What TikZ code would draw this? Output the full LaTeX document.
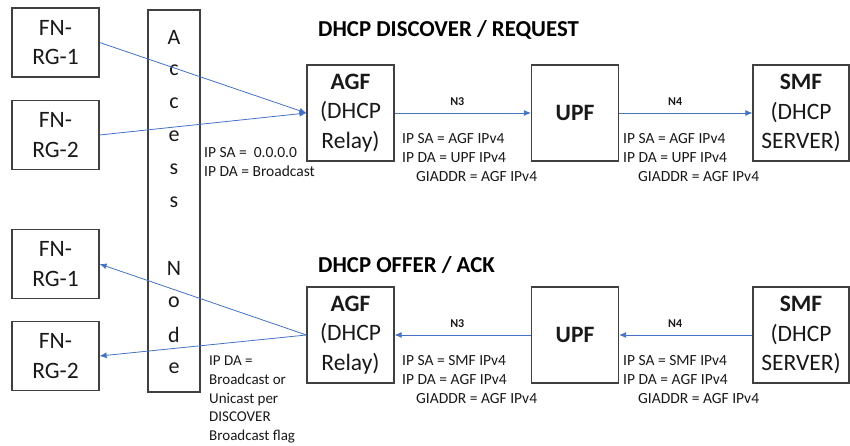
\documentclass[tikz,border=0pt]{standalone}
\usepackage{fontspec}
\setmainfont{Carlito}
\usetikzlibrary{arrows.meta}
\definecolor{arrowblue}{HTML}{4472C4}
\definecolor{boxgray}{HTML}{404040}

\begin{document}
\begin{tikzpicture}[
x=1pt,y=-1pt,
mybox/.style={
  draw=boxgray,
  line width=1.2pt,
  inner sep=0pt,
  align=center,
  text=black!90,
  font=\fontsize{23.5}{29.5}\selectfont
  },
fnbox/.style={mybox,minimum width=87pt,minimum height=69pt},
nfbox/.style={mybox,minimum width=87pt,minimum height=96pt},
letter/.style={inner sep=0pt,text=black!90,font=\fontsize{22}{26}\selectfont},
info/.style={anchor=north west,inner sep=0pt,align=left,text=black!90,font=\fontsize{15.5}{19}\selectfont},
title/.style={anchor=west,inner sep=0pt,font=\fontsize{22.8}{26}\selectfont\bfseries},
iface/.style={above=6.5pt,inner sep=1pt,text=black!90,font=\fontsize{12}{14}\selectfont\bfseries},
flow/.style={arrowblue,line width=0.8pt,-{Latex[length=7pt,width=6pt]}}
]
\useasboundingbox (0,0) rectangle (850,446);
% FN-RG boxes
\foreach \Value/\Y in {1/42.5,2/135}
  \node[fnbox] (rgu\Value) at (55.5,\Y) {FN-\\RG-\Value};
\foreach \Value/\Y in {1/264,2/356}
  \node[fnbox] (rgd\Value) at (55.5,\Y) {FN-\\RG-\Value};
% access node column
\node[mybox,minimum width=52pt,minimum height=382pt] (an) at (174,201) {};
\foreach \Letter/\Pos in {A/0,c/1,c/2,e/3,s/4,s/5,N/7,o/8,d/9,e/10}
  \node[letter] (an\Pos) at (174,{37+33.1*\Pos}) {\Letter};
% discover / request
\node[title] (tu) at (318,30) {DHCP DISCOVER / REQUEST};
\node[nfbox] (agfu) at (350.5,113) {\textbf{AGF}\\(DHCP\\Relay)};
\node[nfbox] (upfu) at (575,113) {\textbf{UPF}};
\node[nfbox,minimum width=96pt] (smfu) at (801,113) {\textbf{SMF}\\(DHCP\\SERVER)};
\node[info] (iu0) at (204,147) {IP SA = \ 0.0.0.0\\IP DA = Broadcast};
\node[info] (iu1) at (402,133) {IP SA = AGF IPv4\\IP DA = UPF IPv4\\\hspace{14pt}GIADDR = AGF IPv4};
\node[info] (iu2) at (623,133) {IP SA = AGF IPv4\\IP DA = UPF IPv4\\\hspace{15pt}GIADDR = AGF IPv4};
\path[flow]
	(rgu1.east) edge (agfu.west)
	(rgu2.east) edge (agfu.west)
	(agfu) edge node[iface,pos=.46] {N3} (upfu)
	(upfu) edge node[iface,pos=.42] {N4} (smfu);
% offer / ack
\node[title] (td) at (318,265) {DHCP OFFER / ACK};
\node[nfbox] (agfd) at (350.5,335) {\textbf{AGF}\\(DHCP\\Relay)};
\node[nfbox] (upfd) at (575,335) {\textbf{UPF}};
\node[nfbox,minimum width=96pt] (smfd) at (801,335) {\textbf{SMF}\\(DHCP\\SERVER)};
\node[info,font=\fontsize{15}{18.6}\selectfont] (id0) at (209,356) {IP DA =\\Broadcast or\\Unicast per\\DISCOVER\\Broadcast flag};
\node[info] (id1) at (402,355) {IP SA = SMF IPv4\\IP DA = AGF IPv4\\\hspace{14pt}GIADDR = AGF IPv4};
\node[info] (id2) at (623,355) {IP SA = SMF IPv4\\IP DA = AGF IPv4\\\hspace{15pt}GIADDR = AGF IPv4};
\path[flow]
	(agfd.west) edge (rgd1.east)
	(agfd.west) edge (rgd2.east)
	(upfd) edge node[iface,pos=.54] {N3} (agfd)
	(smfd) edge node[iface,pos=.58] {N4} (upfd);
\end{tikzpicture}
\end{document}
